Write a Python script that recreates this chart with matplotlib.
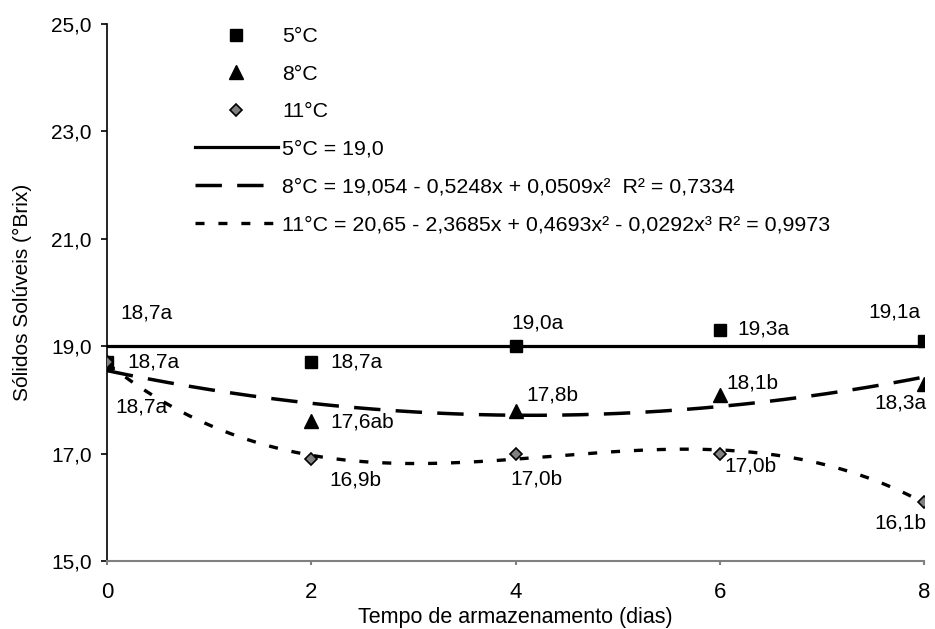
import numpy as np
from matplotlib import pyplot as plt
from matplotlib.ticker import FuncFormatter

plt.rcParams['font.family'] = ['Liberation Sans', 'DejaVu Sans']
plt.rcParams['lines.scale_dashes'] = False

# storage time (days)
dias = [0, 2, 4, 6, 8]
# soluble solids (°Brix) per temperature
t5 = [18.7, 18.7, 19.0, 19.3, 19.1]
t8 = [18.7, 17.6, 17.8, 18.1, 18.3]
t11 = [18.7, 16.9, 17.0, 17.0, 16.1]
lab5 = ['18,7a', '18,7a', '19,0a', '19,3a', '19,1a']
lab8 = ['18,7a', '17,6ab', '17,8b', '18,1b', '18,3a']
lab11 = ['18,7a', '16,9b', '17,0b', '17,0b', '16,1b']
fit5 = 19.0  # 5°C = 19,0

eq5 = '5°C = 19,0'
eq8 = '8°C = 19,054 - 0,5248x + 0,0509x²  R² = 0,7334'
eq11 = '11°C = 20,65 - 2,3685x + 0,4693x² - 0,0292x³ R² = 0,9973'

# label offsets in pixels (dx, dy, ha)
off5 = [(13, 49, 'left'), (19, 0, 'left'), (-4, 23, 'left'), (18, 1, 'left'), (-3, 29, 'right')]
off8 = [(20, 0, 'left'), (19, -1, 'left'), (11, 16, 'left'), (7, 12, 'left'), (3, -19, 'right')]
off11 = [(8, -45, 'left'), (18, -21, 'left'), (-5, -25, 'left'), (5, -12, 'left'), (2, -21, 'right')]

fig = plt.figure(figsize=(9.35, 6.29), dpi=100)
ax = fig.add_axes([107/935, 1 - 561/629, 817/935, 537/629])

xx = np.linspace(0, 8, 200)
p8 = np.polyfit(dias, t8, 2)
p11 = np.polyfit(dias, t11, 3)

l5, = ax.plot([0, 8], [fit5, fit5], '-', color='black', lw=2.3, label=eq5)
l8, = ax.plot(xx, np.polyval(p8, xx), color='black', lw=2.5, dashes=(19, 11), label=eq8)
l11, = ax.plot(xx, np.polyval(p11, xx), color='black', lw=2.4, dashes=(6.5, 10), label=eq11)

m5, = ax.plot(dias, t5, 's', color='black', ms=8, ls='none', zorder=4, label='5°C')
m8, = ax.plot(dias, t8, '^', color='black', ms=10, ls='none', zorder=4, label='8°C')
m11, = ax.plot(dias, t11, 'D', mfc='#808080', mec='black', mew=1.2, ms=6.5,
               ls='none', zorder=5, label='11°C')

for ys, labs, offs in [(t5, lab5, off5), (t8, lab8, off8), (t11, lab11, off11)]:
    for x, y, s, (dx, dy, ha) in zip(dias, ys, labs, offs):
        ax.annotate(s, (x, y), xytext=(dx, dy), textcoords='offset pixels',
                    ha=ha, va='center', fontsize=15)

ax.set_xlim(0, 8)
ax.set_ylim(15, 25)
ax.set_xticks([0, 2, 4, 6, 8])
ax.set_yticks([15, 17, 19, 21, 23, 25])
ax.yaxis.set_major_formatter(FuncFormatter(lambda v, p: f'{v:.1f}'.replace('.', ',')))
ax.spines['top'].set_visible(False)
ax.spines['right'].set_visible(False)
ax.spines['left'].set_linewidth(1.2)
ax.spines['bottom'].set_color('#808080')
ax.spines['bottom'].set_linewidth(1.5)
ax.tick_params(axis='y', direction='out', length=4, width=1.2, pad=7, labelsize=15)
ax.tick_params(axis='x', direction='out', length=3, width=1.5, color='#808080',
               pad=12, labelsize=16)
ax.set_xlabel('Tempo de armazenamento (dias)', fontsize=15.5, labelpad=3)
ax.set_ylabel('Sólidos Solúveis (°Brix)', fontsize=15)
ax.yaxis.set_label_coords(-0.092, 0.5)

ax.legend(handles=[m5, m8, m11, l5, l8, l11], loc='upper left',
          bbox_to_anchor=(195/935, 1 - 27/629), bbox_transform=fig.transFigure,
          frameon=False, fontsize=15.4, numpoints=1, handlelength=3.88,
          handletextpad=0.19, labelspacing=0.87, borderpad=0, borderaxespad=0)

fig.savefig('out.png', dpi=100)
